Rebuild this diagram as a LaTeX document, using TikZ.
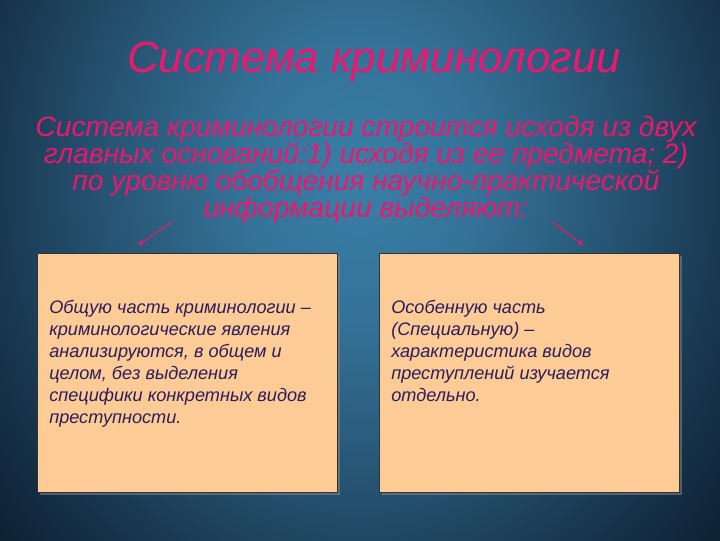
\documentclass[tikz,border=0pt]{standalone}
\usepackage{fontspec}
\setmainfont{Liberation Sans}
\usetikzlibrary{shadows}

\definecolor{bgin}{RGB}{58,126,166}
\definecolor{bgout}{RGB}{6,16,32}
\definecolor{pinkred}{RGB}{238,22,110}
\definecolor{peach}{RGB}{253,203,150}
\definecolor{inktext}{RGB}{42,30,92}

\pgfdeclareradialshading{slidebg}{\pgfpoint{0bp}{0bp}}{%
  color(0bp)=(bgin); color(5bp)=(bgin!90!bgout); color(11bp)=(bgin!62!bgout);
  color(17bp)=(bgin!30!bgout); color(22bp)=(bgin!8!bgout); color(25bp)=(bgout); color(50bp)=(bgout)}

\begin{document}
\begin{tikzpicture}[x=0.025cm, y=-0.025cm,
    partbox/.style={draw=black!80, fill=peach, line width=0.6pt,
      minimum width=300*0.025cm, minimum height=239*0.025cm,
      drop shadow={opacity=0.6, shadow xshift=2pt, shadow yshift=-2pt}},
    parttext/.style={anchor=north west, align=left, text=inktext,
      font=\fontsize{12.9}{15.6}\selectfont\itshape, inner sep=0pt},
    pinkarrow/.style={draw=pinkred, line width=0.8pt, -stealth}]
    % background
    \useasboundingbox (0,0) rectangle (720,540);
    \begin{scope}
      \clip (0,0) rectangle (720,540);
      \shade[shading=slidebg] (360,180) ellipse (580 and 680);
    \end{scope}

    % draw title and lead text
    \node[text=pinkred, font=\fontsize{31}{36}\selectfont\itshape] (title) at (374,62) {Система криминологии};
    \node[text=pinkred, align=center, font=\fontsize{20}{19.2}\selectfont\itshape] (lead) at (366,170)
      {Система криминологии строится исходя из двух\\
       главных оснований:1) исходя из ее предмета; 2)\\
       по уровню обобщения научно-практической\\
       информации выделяют:};

    % draw boxes
    \node[partbox, anchor=north west] (general) at (37,253) {};
    \node[partbox, anchor=north west] (special) at (379,253) {};
    \node[parttext] (gentext) at (49,300) {Общую часть криминологии --\\
      криминологические явления\\
      анализируются, в общем и\\
      целом, без выделения\\
      специфики конкретных видов\\
      преступности.};
    \node[parttext] (spectext) at (391,300) {Особенную часть\\
      (Специальную) --\\
      характеристика видов\\
      преступлений изучается\\
      отдельно.};

    % draw arrows
    \coordinate (leftfrom) at (172,222);
    \coordinate (rightfrom) at (553,222);
    \draw[pinkarrow] (leftfrom) -- ([xshift=101*0.025cm, yshift=8*0.025cm]general.north west);
    \draw[pinkarrow] (rightfrom) -- ([xshift=204*0.025cm, yshift=8*0.025cm]special.north west);
  \end{tikzpicture}
\end{document}
